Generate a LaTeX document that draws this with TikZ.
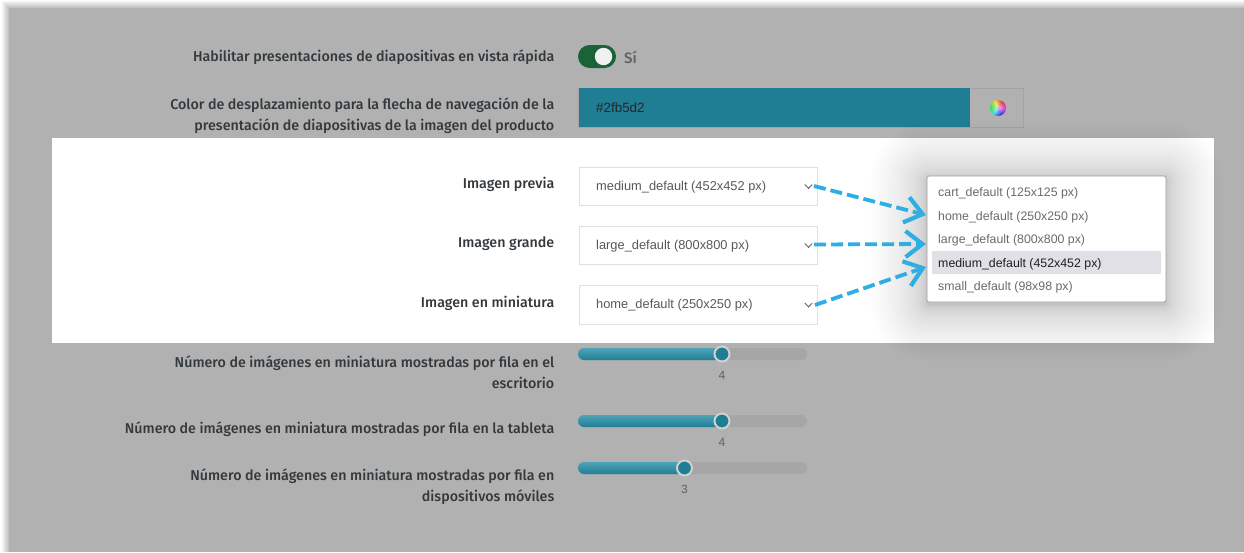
\documentclass[tikz,border=0pt]{standalone}
\usepackage{fontspec}
\setmainfont{Liberation Sans}
\newfontfamily\labfont{Fira Sans Medium}
\usetikzlibrary{arrows.meta,calc}
\definecolor{panelgray}{HTML}{B1B1B1}
\definecolor{labink}{HTML}{33383C}
\definecolor{swatch}{HTML}{1F7D94}
\definecolor{arrowblue}{HTML}{2FAEE3}
\definecolor{tracktop}{HTML}{4FA3B7}
\definecolor{trackbot}{HTML}{1F7F96}
\definecolor{togglegreen}{HTML}{1A6338}
\definecolor{hilite}{HTML}{E0E0E6}
\definecolor{trackgray}{HTML}{A6A6A6}
\tikzset{
  x=1pt,y=-1pt,
  lab/.style={anchor=east,align=right,font=\labfont\fontsize{14.25}{21}\selectfont,text=labink,inner sep=0pt},
  selectbox/.style={draw=black!12,line width=.8pt,fill=white,minimum width=238.5pt,minimum height=38.5pt,anchor=north west,inner sep=0pt},
  seltext/.style={anchor=west,font=\fontsize{12.85}{14}\selectfont,text=black!65,inner sep=0pt},
  poptext/.style={anchor=west,font=\fontsize{12.35}{14}\selectfont,text=black!58,inner sep=0pt},
  valtext/.style={font=\fontsize{12}{13}\selectfont,text=black!62,inner sep=0pt},
  dasharrow/.style={arrowblue,line width=3.8pt,dash pattern=on 12pt off 5pt,-{Straight Barb[length=17pt,width=26pt,line width=4.2pt]}},
  chev/.style={draw=black!60,line width=1pt,line cap=round},
}
\newcommand{\chevron}[2]{\draw[chev] (#1-3.5,#2-1.8) -- (#1,#2+1.8) -- (#1+3.5,#2-1.8);}
\newcommand{\slider}[4]{%
  \fill[trackgray,rounded corners=6pt] (578,#1-6) rectangle (807,#1+6);
  \shade[top color=tracktop,bottom color=trackbot,rounded corners=6pt] (578,#1-6) rectangle (#2,#1+6);
  \node[circle,fill=swatch,draw=black!18,line width=2pt,minimum size=15pt,inner sep=0pt] (#3) at (#2,#1) {};
  \node[valtext] (#3v) at (#2,#1+21.5) {#4};
}
\begin{document}
\begin{tikzpicture}
\useasboundingbox (0,0) rectangle (1244,552);
\fill[white] (0,0) rectangle (1244,552);
% panel edge shadow
\foreach \i in {1,...,7}{\fill[black,opacity=.035] (9-\i,8-\i) rectangle (1244,552);}
\fill[panelgray] (9,8) rectangle (1244,552);
% top rows
\node[lab] (l1) at (554.5,57.5) {Habilitar presentaciones de diapositivas en vista rápida};
\node[lab] (l2) at (554.5,115.5) {Color de desplazamiento para la flecha de navegación de la\\presentación de diapositivas de la imagen del producto};
\fill[togglegreen,rounded corners=11.5pt] (578,45) rectangle (616,68);
\fill[white!94!black] (603.5,56.5) circle (8.7);
\node[anchor=west,inner sep=0pt,font=\labfont\fontsize{15}{17}\selectfont,text=black!62] (si) at (624,57.5) {Sí};
\node[draw=black!36,line width=.8pt,anchor=north west,minimum width=445pt,minimum height=39.5pt,inner sep=0pt] (pick) at (578,87.5) {};
\fill[swatch] (579,88) rectangle (970,127);
\node[anchor=west,inner sep=0pt,font=\fontsize{13.4}{15}\selectfont,text=black!85] (hex) at (596,107.5) {\#2fb5d2};
% colour wheel
\begin{scope}[shift={(998,108)}]
  \foreach \a in {0,15,...,345}{
    \pgfmathtruncatemacro{\hh}{mod(360-\a+300,360)}
    \definecolor{wheelc}{Hsb}{\hh,.75,.88}
    \fill[wheelc] (0,0) -- (\a:8) arc[start angle=\a,end angle=\a+16,radius=8] -- cycle;}
  \fill[white,opacity=.15] (0,0) circle (6.5);
  \fill[white,opacity=.2] (0,0) circle (5);
  \fill[white,opacity=.25] (0,0) circle (3);
\end{scope}
% white band
\fill[white] (52,138) rectangle (1214,343);
% popup shadow
\foreach \i in {1,...,30}{
  \pgfmathsetmacro{\e}{56*(\i/30)^2}
  \fill[black,opacity=.009,rounded corners=\e+2] (927-\e,176-\e+3) rectangle (1166+\e,302+\e+3);
}
\node[lab] (a) at (554.5,184.5) {Imagen previa};
\node[lab] (b) at (554.5,244) {Imagen grande};
\node[lab] (c) at (554.5,303) {Imagen en miniatura};
\node[selectbox] (s1) at (578.5,166.5) {};
\node[selectbox] (s2) at (578.5,225.5) {};
\node[selectbox] (s3) at (578.5,285) {};
\node[seltext] (t1) at (596,187) {medium\_default (452x452 px)};
\node[seltext] (t2) at (596,246.5) {large\_default (800x800 px)};
\node[seltext] (t3) at (596,305.5) {home\_default (250x250 px)};
\chevron{808.5}{186.5}
\chevron{808.5}{245.5}
\chevron{808.5}{305}
% popup
\fill[white,rounded corners=2pt,draw=black!38,line width=.7pt] (927,176) rectangle (1166,302);
\fill[hilite,rounded corners=1pt] (932,251) rectangle (1161,274);
\node[poptext] (p1) at (938,193.5) {cart\_default (125x125 px)};
\node[poptext] (p2) at (938,217) {home\_default (250x250 px)};
\node[poptext] (p3) at (938,240.5) {large\_default (800x800 px)};
\node[poptext,text=black!88] (p4) at (938,264) {medium\_default (452x452 px)};
\node[poptext] (p5) at (938,287.5) {small\_default (98x98 px)};
% arrows
\coordinate (e1) at (926,215);
\coordinate (e2) at (926,244);
\coordinate (e3) at (926,267);
\coordinate (o1) at (814,186);
\coordinate (o2) at (814,244.5);
\coordinate (o3) at (815,305);
\draw[dasharrow] (o1) -- (e1);
\draw[dasharrow] (o2) -- (e2);
\draw[dasharrow] (o3) -- (e3);
% lower rows
\node[lab] (r1) at (554.5,372) {Número de imágenes en miniatura mostradas por fila en el\\escritorio};
\node[lab] (r2) at (554.5,429) {Número de imágenes en miniatura mostradas por fila en la tableta};
\node[lab] (r3) at (554.5,486.5) {Número de imágenes en miniatura mostradas por fila en\\dispositivos móviles};
\slider{354}{722}{k1}{4}
\slider{421}{722}{k2}{4}
\slider{468}{684.5}{k3}{3}
\end{tikzpicture}
\end{document}
